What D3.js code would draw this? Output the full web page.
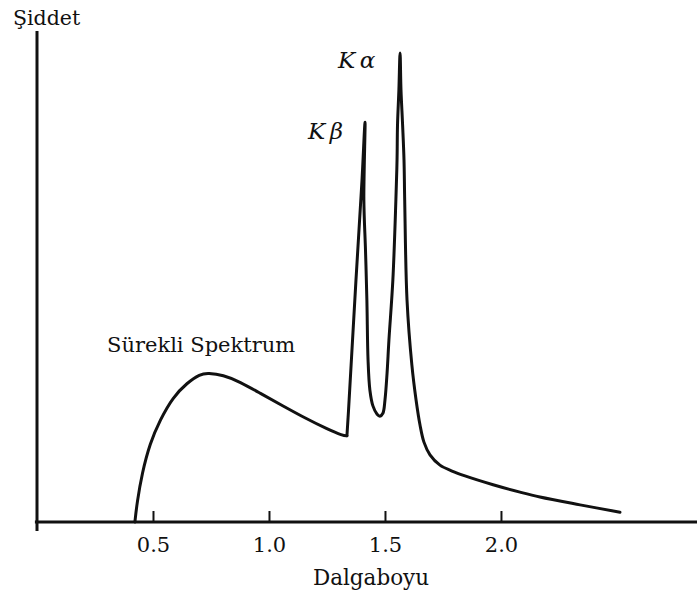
<!DOCTYPE html>
<html lang="tr">
<head>
  <meta charset="UTF-8">
  <title>X-ışını spektrumu</title>
  <script src="https://d3js.org/d3.v7.min.js"></script>
  <style>
    body { margin: 0; background: #fff; }
    text { font-family: "DejaVu Serif", serif; fill: #111; }
  </style>
</head>
<body>
<script>
  // continuous spectrum: wavelength (Dalgaboyu) and intensity (Şiddet, 0-100)
  const contWavelength = [
    0.422, 0.431, 0.453, 0.487, 0.530, 0.586, 0.647, 0.703, 0.737, 0.802,
    0.875, 0.961, 1.060, 1.164, 1.250, 1.319, 1.336
  ];
  const contIntensity = [
    0, 3.9, 10.0, 16.1, 20.8, 25.5, 28.4, 30.2, 30.4, 30.0,
    28.6, 26.3, 23.7, 21.0, 19.0, 17.6, 17.6
  ];
  // characteristic lines (K beta, K alpha) and the tail
  const peakWavelength = [
    1.336, 1.343, 1.375, 1.401, 1.414,
    1.409, 1.416, 1.422, 1.427, 1.435, 1.448, 1.466, 1.478, 1.491, 1.500,
    1.509, 1.517, 1.534, 1.547, 1.552, 1.554, 1.560, 1.565,
    1.569, 1.576, 1.582, 1.585, 1.595, 1.616, 1.634, 1.651, 1.668, 1.694,
    1.737, 1.789, 1.845, 1.966, 2.082, 2.168, 2.341, 2.513
  ];
  const peakIntensity = [
    17.6, 22.9, 49.4, 69.8, 81.6,
    65.7, 55.5, 45.3, 33.1, 26.9, 23.7, 22.0, 21.6, 22.2, 24.9,
    30.4, 37.1, 49.4, 65.7, 73.9, 81.0, 88.2, 95.7,
    88.2, 81.0, 73.9, 65.7, 45.3, 32.0, 24.9, 19.8, 16.3, 13.7,
    11.6, 10.4, 9.4, 7.6, 6.1, 5.1, 3.5, 2.0
  ];
  const tickValues = [0.5, 1.0, 1.5, 2.0];

  // annotation labels: text, wavelength, intensity
  const labelText = ["K\u2009\u03b1", "K\u2009\u03b2", "Sürekli Spektrum"];
  const labelX = [1.297, 1.168, 0.302];
  const labelY = [92.7, 78.2, 34.7];

  const width = 697, height = 598;
  const svg = d3.select("body").append("svg")
    .attr("width", width)
    .attr("height", height);

  const x = d3.scaleLinear().domain([0, 2.845]).range([37, 697]);
  const y = d3.scaleLinear().domain([0, 100]).range([522, 32]);

  // x axis with upward ticks
  const xAxis = d3.axisBottom(x)
    .tickValues(tickValues)
    .tickFormat(d3.format(".1f"))
    .tickSizeInner(-11)
    .tickSizeOuter(0)
    .tickPadding(15);

  const gx = svg.append("g")
    .attr("transform", `translate(0,${y(0)})`)
    .call(xAxis);
  gx.select(".domain")
    .attr("stroke", "#111")
    .attr("stroke-width", 3)
    .attr("d", `M${x(-0.009)},0H${width}`);
  gx.selectAll(".tick line").attr("stroke", "#111").attr("stroke-width", 2);
  gx.selectAll(".tick text")
    .style("font-family", "'DejaVu Serif', serif")
    .style("font-size", "21px")
    .attr("fill", "#111");

  // y axis (no ticks)
  svg.append("line")
    .attr("x1", x(0)).attr("x2", x(0))
    .attr("y1", y(100.2)).attr("y2", y(-1.85))
    .attr("stroke", "#111")
    .attr("stroke-width", 3);

  // spectrum curve, drawn in two pieces
  const cont = contWavelength.map((w, i) => [w, contIntensity[i]]);
  const peaks = peakWavelength.map((w, i) => [w, peakIntensity[i]]);

  const smooth = d3.line()
    .x(d => x(d[0]))
    .y(d => y(d[1]))
    .curve(d3.curveBasis);
  const sharp = d3.line()
    .x(d => x(d[0]))
    .y(d => y(d[1]))
    .curve(d3.curveCatmullRom.alpha(0.5));

  svg.append("path")
    .datum(cont)
    .attr("d", smooth)
    .attr("fill", "none")
    .attr("stroke", "#111")
    .attr("stroke-width", 3)
    .attr("stroke-linecap", "round");

  svg.append("path")
    .datum(peaks)
    .attr("d", sharp)
    .attr("fill", "none")
    .attr("stroke", "#111")
    .attr("stroke-width", 3)
    .attr("stroke-linejoin", "round")
    .attr("stroke-linecap", "round");

  // annotations
  svg.selectAll(".ann")
    .data(labelText)
    .enter().append("text")
    .attr("class", "ann")
    .attr("x", (d, i) => x(labelX[i]))
    .attr("y", (d, i) => y(labelY[i]))
    .style("font-size", (d, i) => i < 2 ? "23px" : "21px")
    .style("font-style", (d, i) => i < 2 ? "italic" : "normal")
    .text(d => d);

  // axis titles
  svg.append("text")
    .attr("x", 13).attr("y", 25)
    .style("font-size", "20.5px")
    .text("Şiddet");

  svg.append("text")
    .attr("x", 371).attr("y", 585)
    .attr("text-anchor", "middle")
    .style("font-size", "21.5px")
    .text("Dalgaboyu");
</script>
</body>
</html>
